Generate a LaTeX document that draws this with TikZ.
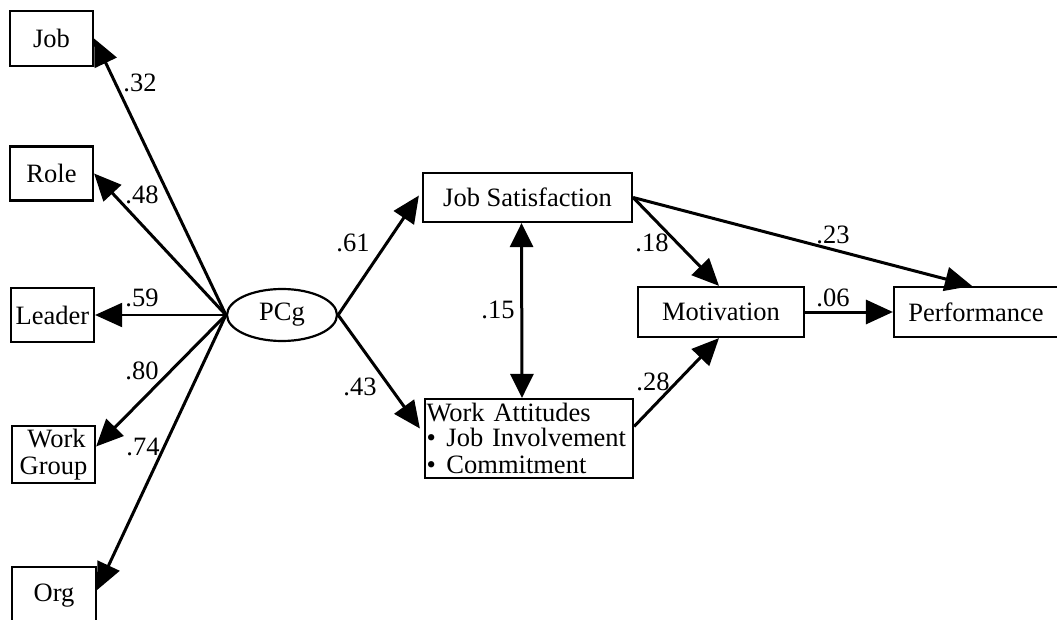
\documentclass[tikz,border=0pt]{standalone}
\usepackage{fontspec}
\setmainfont{Liberation Serif}
\usetikzlibrary{arrows.meta,shapes.geometric,calc}
\tikzset{
  box/.style={draw, line width=2.2pt, inner sep=0pt, font=\fontsize{26.5}{27}\selectfont},
  arr/.style={line width=3pt, -{Triangle[length=27pt,width=24pt]}},
  dbl/.style={line width=3pt, {Triangle[length=24pt,width=23pt]}-{Triangle[length=24pt,width=23pt]}},
  lab/.style={font=\fontsize{26.5}{27}\selectfont, inner sep=0pt}
}
\begin{document}
\begin{tikzpicture}[x=1pt,y=-1pt]
\useasboundingbox (0,0) rectangle (1057,620);
% left indicator boxes
\node[box, minimum width=83pt, minimum height=55pt] (job) at (51.5,38.5) {Job};
\node[box, minimum width=83pt, minimum height=54pt] (role) at (51.5,173.5) {Role};
\node[box, minimum width=83pt, minimum height=54pt] (leader) at (52.5,315) {Leader};
\node[box, minimum width=83pt, minimum height=57pt, align=center] (wg) at (53.5,454.5) {\hspace*{6pt}Work\\Group};
\node[box, minimum width=84pt, minimum height=58pt] (org) at (54,596) {Org};
% PCg
\node[box, ellipse, minimum width=110pt, minimum height=52pt] (pcg) at (282,315) {PCg};
% right boxes
\node[box, minimum width=209pt, minimum height=49pt] (js) at (527.5,197.5) {Job Satisfaction};
\node[box, minimum width=208pt, minimum height=79pt, align=left, text width=205pt] (wa) at (529,438.5)
  {\fontsize{26.5}{25}\selectfont Work Attitudes\\\makebox[20pt][l]{•}Job Involvement\\\makebox[20pt][l]{•}Commitment};
\node[box, minimum width=166pt, minimum height=50pt] (mot) at (721,312) {Motivation};
\node[box, minimum width=164pt, minimum height=50pt] (perf) at (976,312) {Performance};
% arrows from PCg to indicators
\draw[arr] (pcg.west) -- (job.east);
\draw[arr] (pcg.west) -- (role.east);
\draw[arr, line width=2pt] (pcg.west) -- (leader.east);
\draw[arr] (pcg.west) -- ($(wg.east)+(0,-8)$);
\draw[arr] (pcg.west) -- ($(org.east)+(0,-6)$);
% structural arrows
\draw[arr] (pcg.east) -- ($(js.west)+(-3,-2)$);
\draw[arr] (pcg.east) -- ($(wa.west)+(-4,-10)$);
\draw[dbl] ($(js.south)+(-6,0)$) -- ($(wa.north)+(-7,0)$);
\draw[arr] (js.east) -- ($(mot.north)+(-2,0)$);
\draw[arr] (js.east) -- ($(perf.north)+(-4,0)$);
\draw[arr] (mot.east) -- (perf.west);
\draw[arr] ($(wa.east)+(0,-12)$) -- ($(mot.south)+(-2,0)$);
% coefficient labels
\node[lab] (l32) at (140,83) {.32};
\node[lab] (l48) at (142,195) {.48};
\node[lab] (l59) at (142,298) {.59};
\node[lab] (l80) at (142,371) {.80};
\node[lab] (l74) at (143,447) {.74};
\node[lab] (l61) at (353,243) {.61};
\node[lab] (l43) at (360,387) {.43};
\node[lab] (l15) at (498,310) {.15};
\node[lab] (l18) at (652,243) {.18};
\node[lab] (l28) at (653,382) {.28};
\node[lab] (l23) at (833,235) {.23};
\node[lab] (l06) at (833,298) {.06};
\end{tikzpicture}
\end{document}
